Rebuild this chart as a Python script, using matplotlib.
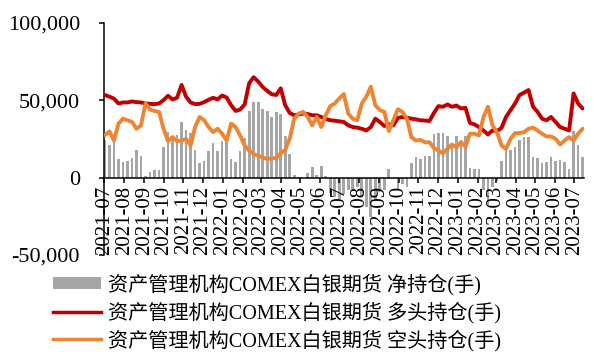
import matplotlib
matplotlib.use("Agg")
import matplotlib.pyplot as plt
import matplotlib.dates as mdates
from matplotlib.ticker import FuncFormatter
from matplotlib.patches import Patch
from matplotlib.lines import Line2D
import numpy as np
import pandas as pd

# Weekly COT report dates (Fridays)
dates = pd.date_range("2021-07-02", "2023-07-14", freq="7D")

# Net position of managed money in COMEX silver futures (thousand contracts)
net_position = [
    24.0, 21.3, 24.8, 12.0, 9.8, 10.9, 12.4, 18.0, 14.1, 1.1,
    3.7, 4.6, 5.0, 19.6, 29.3, 26.5, 27.6, 35.7, 30.4, 28.7,
    17.8, 9.3, 10.9, 17.4, 22.2, 17.4, 23.9, 24.8, 12.0, 10.2,
    17.4, 25.6, 42.8, 48.9, 48.5, 44.3, 43.0, 39.0, 42.6, 41.3,
    26.7, 15.2, 1.7, 0.4, -0.5, 3.0, 6.7, 1.7, 7.4, 1.0,
    -9.9, -12.5, -13.6, -10.3, -8.2, -7.1, -6.0, -12.5, -19.0, -25.4,
    -14.7, -9.3, -8.2, 5.8, -0.3, -8.2, -3.9, -6.0, 9.7, 13.4,
    12.0, 14.0, 13.6, 28.2, 29.0, 28.9, 26.9, 21.5, 26.8, 24.3,
    27.0, 6.1, 5.6, 5.3, -8.0, -17.9, -6.0, -2.0, 10.6, 19.1,
    18.0, 20.0, 24.3, 25.9, 25.9, 13.0, 12.8, 9.5, 10.0, 13.3,
    10.7, 11.3, 10.0, 5.8, 30.3, 20.8, 13.2,
]

# Long position (thousand contracts)
long_position = [
    53.3, 52.2, 51.0, 47.8, 48.5, 48.5, 49.1, 48.7, 48.5, 47.8,
    47.6, 47.4, 47.8, 50.0, 52.8, 50.4, 51.5, 59.8, 52.2, 48.5,
    47.4, 47.6, 48.7, 50.2, 51.5, 50.4, 53.0, 51.7, 46.7, 43.0,
    43.9, 47.2, 60.9, 64.8, 62.0, 58.5, 56.0, 53.8, 53.3, 57.6,
    46.7, 41.7, 40.2, 40.7, 41.3, 41.0, 40.2, 40.2, 39.1, 37.8,
    37.0, 36.7, 36.3, 35.9, 33.7, 32.6, 32.2, 31.5, 30.4, 32.6,
    38.0, 35.9, 33.3, 34.5, 33.7, 38.5, 39.1, 38.7, 38.0, 37.6,
    37.0, 36.8, 36.5, 41.7, 46.1, 45.7, 47.2, 45.7, 46.5, 44.6,
    45.0, 35.2, 34.3, 32.6, 30.4, 27.8, 30.4, 30.0, 32.0, 39.1,
    43.5, 47.8, 53.3, 54.8, 56.5, 45.7, 42.4, 38.0, 37.0, 39.1,
    35.9, 32.6, 31.5, 30.4, 54.3, 47.8, 44.6,
]

# Short position (thousand contracts)
short_position = [
    27.4, 29.8, 23.9, 34.8, 38.0, 37.0, 35.9, 31.5, 33.7, 47.8,
    43.9, 43.0, 42.4, 31.5, 23.5, 26.1, 23.5, 23.9, 25.0, 20.7,
    32.6, 39.1, 37.0, 32.6, 29.3, 31.5, 28.3, 23.9, 34.8, 32.6,
    27.2, 20.7, 17.4, 15.2, 14.1, 13.0, 12.0, 12.4, 12.6, 15.7,
    17.8, 25.0, 38.0, 41.3, 42.4, 39.1, 33.7, 39.1, 32.6, 40.2,
    46.1, 47.8, 51.1, 53.9, 41.3, 38.0, 37.0, 47.8, 52.2, 58.7,
    46.7, 43.5, 42.4, 30.0, 37.0, 44.1, 42.4, 38.0, 26.1, 23.9,
    24.3, 22.8, 22.8, 19.1, 17.4, 15.7, 18.5, 21.3, 19.6, 22.8,
    20.0, 28.3, 28.3, 27.2, 39.1, 45.7, 33.7, 29.3, 20.7, 18.5,
    25.0, 28.7, 28.7, 29.3, 31.5, 32.2, 30.4, 28.3, 26.5, 26.5,
    25.0, 21.3, 23.9, 26.1, 23.9, 28.3, 31.5,
]

labels = [
    "资产管理机构COMEX白银期货 净持仓(手)",
    "资产管理机构COMEX白银期货 多头持仓(手)",
    "资产管理机构COMEX白银期货 空头持仓(手)",
]

yticks = [-50000, 0, 50000, 100000]

BAR_COLOR = "#A6A6A6"
LONG_COLOR = "#C00000"
SHORT_COLOR = "#EF8433"

serif = ["Liberation Serif", "Noto Sans CJK SC"]
plt.rcParams["font.family"] = serif

net = np.array(net_position) * 1000
long_ = np.array(long_position) * 1000
short_ = np.array(short_position) * 1000

fig = plt.figure(figsize=(5.94, 3.52), dpi=100)
ax = fig.add_axes([0.1756, 0.2756, 0.8074, 0.66])

ax.bar(dates, net, width=4.2, color=BAR_COLOR, zorder=1)
ax.plot(dates, long_, color=LONG_COLOR, lw=2.8, solid_joinstyle="round",
        solid_capstyle="round", zorder=3)
ax.plot(dates, short_, color=SHORT_COLOR, lw=2.8, solid_joinstyle="round",
        solid_capstyle="round", zorder=3)

ax.set_ylim(-50000, 100000)
ax.set_yticks(yticks)
ax.yaxis.set_major_formatter(FuncFormatter(lambda v, p: f"{int(v):,}"))
ax.set_xlim(pd.Timestamp("2021-07-01"), pd.Timestamp("2023-07-16"))
ax.xaxis.set_major_locator(mdates.MonthLocator())
ax.xaxis.set_major_formatter(mdates.DateFormatter("%Y-%m"))

for s in ("top", "right"):
    ax.spines[s].set_visible(False)
ax.spines["bottom"].set_position(("data", 0))
ax.spines["bottom"].set_zorder(4)
for s in ("left", "bottom"):
    ax.spines[s].set_linewidth(1.1)
    ax.spines[s].set_color("black")

ax.tick_params(axis="y", direction="out", length=3.6, width=1.1,
               pad=14, labelsize=16)
ax.tick_params(axis="x", direction="out", length=3.6, width=1.1,
               pad=2.5, labelsize=15, labelrotation=90)
for t in ax.get_xticklabels():
    t.set_verticalalignment("top")

handles = [
    Patch(facecolor=BAR_COLOR, edgecolor="none"),
    Line2D([0], [0], color=LONG_COLOR, lw=2.5),
    Line2D([0], [0], color=SHORT_COLOR, lw=2.5),
]
fig.legend(handles, labels, loc="upper left",
           bbox_to_anchor=(0.089, 0.222), frameon=False,
           handlelength=2.4, handleheight=0.55,
           handletextpad=0.35, labelspacing=0.3, borderpad=0,
           borderaxespad=0, prop={"family": serif, "size": 14.5})

fig.savefig("out.png", dpi=100)
